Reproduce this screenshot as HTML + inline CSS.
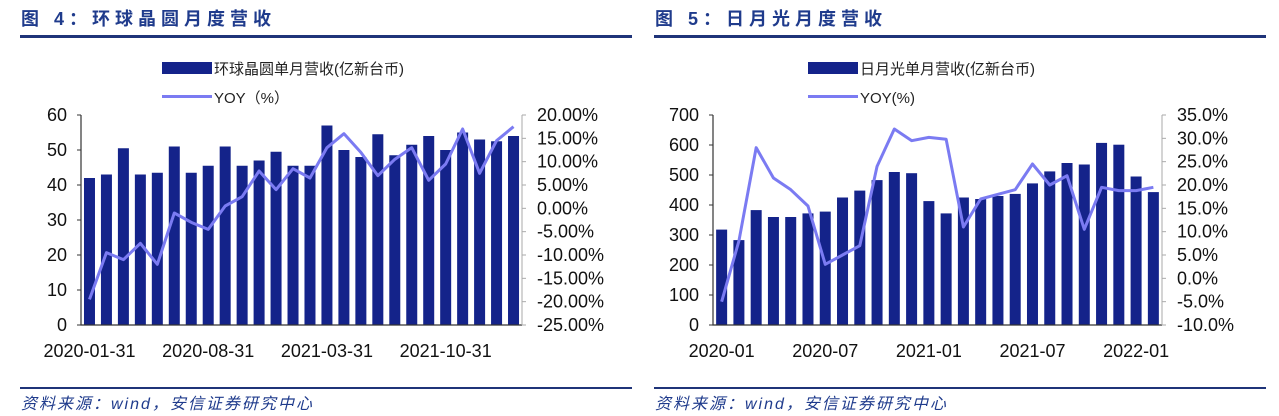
<!DOCTYPE html>
<html><head><meta charset="utf-8"><style>
body{margin:0;width:1279px;height:416px;background:#fff;overflow:hidden;font-family:"Liberation Sans","Noto Sans CJK SC",sans-serif}
svg{display:block}
</style></head><body>
<svg width="1279" height="416" font-family="Liberation Sans, Noto Sans CJK SC, sans-serif">
<g id="c1"></g>
<g id="c2"></g>
</svg>
<script>
const cats1=['2020-01-31','','','','','','','2020-08-31','','','','','','','2021-03-31','','','','','','','2021-10-31','','','',''];
const rev1=[42,43,50.5,43,43.5,51,43.5,45.5,51,45.5,47,49.5,45.5,45.5,57,50,48,54.5,48.5,51.5,54,50,55,53,52.5,54];
const yoy1=[-19.5,-9.5,-11,-7.5,-12,-1,-3,-4.5,0.5,2.5,8,4,8.5,6.5,13,16,12,7,10.5,13,6,9.5,17,7.5,14.5,17.5];
const leftTicks1=[0,10,20,30,40,50,60];
const rightTicks1=[-25,-20,-15,-10,-5,0,5,10,15,20];
const cats2=['2020-01','','','','','','2020-07','','','','','','2021-01','','','','','','2021-07','','','','','','2022-01',''];
const rev2=[318,283,383,360,360,372,378,425,448,483,510,506,413,372,425,420,430,437,472,512,540,535,607,601,495,443];
const yoy2=[-5,8,28,21.5,19,15.5,3,5,7,24,32,29.5,30.2,29.8,11,17,18,19,24.5,20,22,10.5,19.5,18.8,18.8,19.5];
const leftTicks2=[0,100,200,300,400,500,600,700];
const rightTicks2=[-10,-5,0,5,10,15,20,25,30,35];
const NS='http://www.w3.org/2000/svg';
function mk(p,t,a,txt){const e=document.createElementNS(NS,t);for(const k in a)e.setAttribute(k,a[k]);if(txt!==undefined)e.textContent=txt;p.appendChild(e);return e;}
function draw(g,o){
  const X0=o.ox,X1=o.rx,Y0=325,Y1=115;
  const t=mk(g,'text',{x:o.tx,y:25,'font-size':18,'font-weight':'bold',fill:'#1f3b8c','letter-spacing':5},o.title);
  
  const hl=mk(g,'rect',{x:o.tx-1,y:35,width:612,height:3,fill:'#1f3479'});
  
  const fl=mk(g,'rect',{x:o.tx-1,y:387,width:612,height:2,fill:'#1f3479'});
  
  const ft=mk(g,'text',{x:o.tx,y:409,'font-size':16,'font-style':'italic',fill:'#1f3b8c','letter-spacing':2},'资料来源：wind，安信证券研究中心');
  
  const lr=mk(g,'rect',{x:o.lx,y:62,width:50,height:12,fill:'#14238a'});
  
  const l1=mk(g,'text',{x:o.lx+52,y:74,'font-size':15,fill:'#222'},o.leg1);
  
  const ll=mk(g,'rect',{x:o.lx,y:95,width:50,height:3,fill:'#7b7bf2'});
  
  const l2=mk(g,'text',{x:o.lx+52,y:103,'font-size':15,fill:'#222'},o.leg2);
  
  const lmax=o.lt[o.lt.length-1],rmin=o.rt[0],rmax=o.rt[o.rt.length-1];
  const yl=v=>Y0-(v/lmax)*(Y0-Y1);
  const yr=v=>Y0-(v-rmin)/(rmax-rmin)*(Y0-Y1);
  const n=o.rev.length,step=(X1-X0)/n;
  const xc=i=>X0+step*(i+0.5);
  o.rev.forEach((v,i)=>{const b=mk(g,'rect',{x:xc(i)-5.5,y:yl(v),width:11,height:Y0-yl(v),fill:'#14238a'});
    });
  const ax=mk(g,'path',{d:`M${X0} ${Y1}V${Y0}H${X1}`,stroke:'#333',fill:'none','stroke-width':1.2});
  
  const ra=mk(g,'path',{d:`M${X1} ${Y1}V${Y0}`,stroke:'#aaa',fill:'none'});
  
  o.lt.forEach(v=>{mk(g,'path',{d:`M${X0-4} ${yl(v)}H${X0}`,stroke:'#333'});
    const tx=mk(g,'text',{x:X0-14,y:yl(v)+6,'font-size':18,'text-anchor':'end',fill:'#111'},v);
    });
  o.rt.forEach(v=>{mk(g,'path',{d:`M${X1} ${yr(v)}H${X1+4}`,stroke:'#aaa'});
    const tx=mk(g,'text',{x:X1+15,y:yr(v)+6,'font-size':18,fill:'#111'},v.toFixed(o.dec)+'%');
    });
  o.cats.forEach((c,i)=>{if(!c)return;
    const tx=mk(g,'text',{x:xc(i)+o.lo,y:357,'font-size':18,'text-anchor':'middle',fill:'#111'},c);
    });
  const line=mk(g,'polyline',{points:o.yoy.map((v,i)=>xc(i)+','+yr(v)).join(' '),fill:'none',stroke:'#7b7bf2','stroke-width':3,'stroke-linejoin':'round'});
  
}
draw(document.getElementById('c1'),{ox:81,rx:522,tx:21,title:'图 4：环球晶圆月度营收',lx:162,leg1:'环球晶圆单月营收(亿新台币)',leg2:'YOY（%）',rev:rev1,yoy:yoy1,lt:leftTicks1,rt:rightTicks1,cats:cats1,dec:2,lo:0});
draw(document.getElementById('c2'),{ox:713,rx:1162,tx:655,title:'图 5：日月光月度营收',lx:808,leg1:'日月光单月营收(亿新台币)',leg2:'YOY(%)',rev:rev2,yoy:yoy2,lt:leftTicks2,rt:rightTicks2,cats:cats2,dec:1,lo:0});
</script>
</body></html>
